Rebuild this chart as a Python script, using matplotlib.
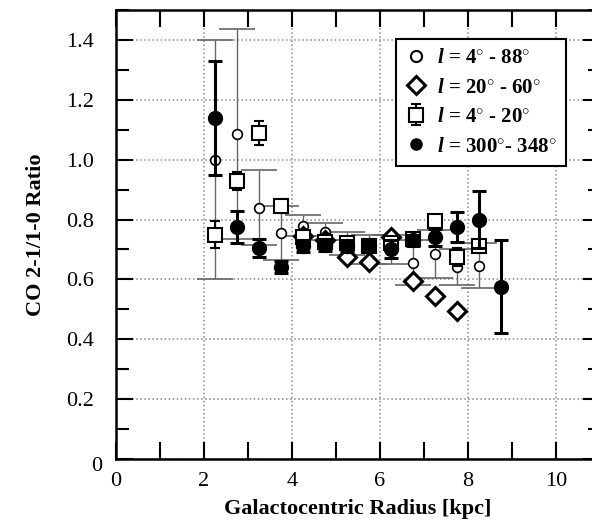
import numpy as np
import matplotlib.pyplot as plt
import matplotlib.transforms as mtransforms
from matplotlib.ticker import MultipleLocator
from matplotlib.lines import Line2D

plt.rcParams['font.family'] = ['Liberation Serif', 'DejaVu Serif']
plt.rcParams['mathtext.fontset'] = 'custom'
plt.rcParams['mathtext.it'] = 'Liberation Serif:bold:italic'
plt.rcParams['mathtext.rm'] = 'Liberation Serif:bold'

# galactocentric radius bins (kpc)
r_circ = [2.25, 2.75, 3.25, 3.75, 4.25, 4.75, 5.25, 5.75, 6.25, 6.75, 7.25, 7.75, 8.25]
ratio_circ = [1.00, 1.085, 0.84, 0.755, 0.78, 0.76, 0.72, 0.70, 0.70, 0.655, 0.685, 0.64, 0.645]
err_circ = [0.40, 0.35, 0.125, 0.09, 0.035, 0.03, 0.04, 0.05, 0.05, 0.075, 0.08, 0.06, 0.075]

r_diam = [4.25, 4.75, 5.25, 5.75, 6.25, 6.75, 7.25, 7.75]
ratio_diam = [0.745, 0.73, 0.674, 0.657, 0.741, 0.595, 0.543, 0.494]

r_sq = [2.25, 2.75, 3.25, 3.75, 4.25, 4.75, 5.25, 5.75, 6.25, 6.75, 7.25, 7.75, 8.25]
ratio_sq = [0.75, 0.93, 1.09, 0.845, 0.74, 0.725, 0.72, 0.71, 0.72, 0.735, 0.795, 0.675, 0.71]
err_sq = [0.045, 0.03, 0.04, 0.02, 0.02, 0.02, 0.02, 0.02, 0.02, 0.01, 0.01, 0.03, 0.02]

r_fill = [2.25, 2.75, 3.25, 3.75, 4.25, 4.75, 5.25, 5.75, 6.25, 6.75, 7.25, 7.75, 8.25, 8.75]
ratio_fill = [1.14, 0.775, 0.705, 0.64, 0.71, 0.715, 0.71, 0.71, 0.70, 0.73, 0.74, 0.775, 0.80, 0.575]
err_fill = [0.19, 0.055, 0.03, 0.02, 0.02, 0.02, 0.02, 0.02, 0.03, 0.02, 0.03, 0.05, 0.095, 0.155]

labels = [r'$l$ = 4$^{\circ}$ - 88$^{\circ}$', r'$l$ = 20$^{\circ}$ - 60$^{\circ}$',
          r'$l$ = 4$^{\circ}$ - 20$^{\circ}$', r'$l$ = 300$^{\circ}$- 348$^{\circ}$']

fig = plt.figure(figsize=(5.92, 5.25), dpi=100)
ax = fig.add_axes([116 / 592, 66 / 525, 484 / 592, 449 / 525])

ax.errorbar(r_circ, ratio_circ, yerr=err_circ, fmt='o', mfc='white', mec='black',
            ms=7, mew=1.2, ecolor='#666666', elinewidth=1, capsize=13, capthick=1, zorder=3)
h2, = ax.plot(r_diam, ratio_diam, 'D', mfc='white', mec='black', ms=9, mew=2.2, zorder=4)
h3 = ax.errorbar(r_sq, ratio_sq, yerr=err_sq, fmt='s', mfc='white', mec='black',
                 ms=10, mew=1.5, ecolor='black', elinewidth=1.5, capsize=3.5, capthick=1.5, zorder=5)
ax.errorbar(r_fill, ratio_fill, yerr=err_fill, fmt='o', color='black',
            ms=10, elinewidth=2.2, capsize=5, capthick=2.2, zorder=6)

h1 = Line2D([], [], ls='none', marker='o', mfc='white', mec='black', ms=8, mew=1.5)
h4 = Line2D([], [], ls='none', marker='o', color='black', ms=8)

ax.set_xlim(0, 11)
ax.set_ylim(0, 1.5)
ax.xaxis.set_major_locator(MultipleLocator(2))
ax.xaxis.set_minor_locator(MultipleLocator(1))
ax.yaxis.set_minor_locator(MultipleLocator(0.1))
ax.set_yticks(np.arange(0, 1.41, 0.2))
ax.set_yticklabels(['0', '0.2', '0.4', '0.6', '0.8', '1.0', '1.2', '1.4'])
ax.tick_params(which='both', direction='in', top=True, right=True, labelsize=16, width=1.5)
ax.tick_params(axis='x', which='both', length=12, pad=9)
ax.tick_params(axis='y', which='major', length=12, pad=16)
ax.tick_params(axis='y', which='minor', length=9)
ax.grid(True, which='major', linestyle=':', color='#888888', linewidth=1.1)
for s in ax.spines.values():
    s.set_linewidth(1.8)

# the y "0" sits a little lower and closer to the corner
zero = ax.get_yticklabels()[0]
zero.set_transform(zero.get_transform() + mtransforms.ScaledTranslation(0.08, -0.05, fig.dpi_scale_trans))

ax.set_xlabel('Galactocentric Radius [kpc]', fontsize=16, fontweight='bold', labelpad=6)
ax.set_ylabel('CO 2-1/1-0 Ratio', fontsize=16, fontweight='bold', labelpad=14)

leg = ax.legend([h1, h2, h3, h4], labels, loc='upper left', bbox_to_anchor=(280 / 484, 1 - 29 / 449),
                prop={'weight': 'bold', 'size': 15}, frameon=True, fancybox=False,
                edgecolor='black', framealpha=1, handlelength=1.0, handletextpad=0.5,
                labelspacing=0.45, borderpad=0.45, borderaxespad=0, numpoints=1)
leg.get_frame().set_linewidth(1.5)

plt.savefig('out.png', dpi=100)
